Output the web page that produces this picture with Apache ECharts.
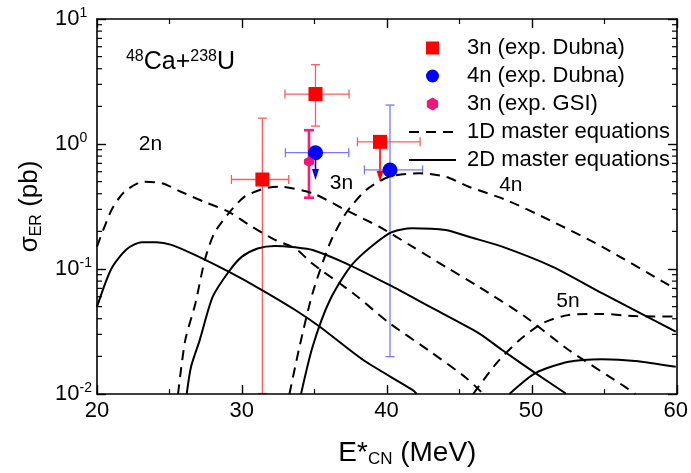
<!DOCTYPE html>
<html><head><meta charset="utf-8">
<script src="https://cdn.jsdelivr.net/npm/echarts@6/dist/echarts.min.js"></script>
<style>
html,body{margin:0;padding:0;background:#fff}
#wrap{position:relative;width:691px;height:473px}
#c,#f{position:absolute;left:0;top:0;width:691px;height:473px}
#f{pointer-events:none}
</style>
</head><body><div id="wrap"><div id="c"></div><div id="f"></div></div>
<script>
// ---------- data ----------
const xTicks = [20, 30, 40, 50, 60];
const yTicks = [0.01, 0.1, 1, 10];
const yMinorTicks = [0.02,0.03,0.04,0.05,0.06,0.07,0.08,0.09,0.2,0.3,0.4,0.5,0.6,0.7,0.8,0.9,2,3,4,5,6,7,8,9];

// 1D master equations (dashed)
const d1n2E = [20.0, 21.0, 21.9, 23.2, 24.5, 25.8, 27.4, 29.1, 30.7, 32.3, 33.7, 34.9, 37.7, 40.2, 43.0, 45.5, 46.7];
const d1n2S = [0.151, 0.296, 0.415, 0.499, 0.485, 0.415, 0.345, 0.287, 0.218, 0.171, 0.146, 0.11, 0.064, 0.037, 0.022, 0.0135, 0.01];
const d1n3E = [25.6, 26.1, 26.8, 27.45, 28.1, 29.1, 30.2, 31.6, 32.6, 34.9, 37.2, 39.5, 41.8, 44.1, 46.4, 49.6, 52.6, 56.5, 57.2];
const d1n3S = [0.01, 0.027, 0.053, 0.118, 0.193, 0.279, 0.379, 0.442, 0.455, 0.403, 0.296, 0.218, 0.151, 0.104, 0.072, 0.0415, 0.0225, 0.0114, 0.01];
const d1n4E = [33.3, 34.0, 34.9, 36.1, 37.2, 38.6, 40.2, 42.3, 44.1, 45.7, 48.3, 51.5, 54.9, 59.5, 60.0];
const d1n4S = [0.01, 0.024, 0.064, 0.161, 0.279, 0.428, 0.547, 0.583, 0.547, 0.455, 0.356, 0.239, 0.151, 0.0745, 0.069];
const d1n5E = [46.0, 47.6, 49.2, 50.8, 52.6, 54.9, 57.2, 60.0];
const d1n5S = [0.01, 0.0176, 0.027, 0.0368, 0.0429, 0.0437, 0.042, 0.0417];

// 2D master equations (solid)
const d2n2E = [20.0, 21.0, 22.05, 23.1, 24.1, 25.15, 26.8, 29.1, 31.4, 33.7, 35.4, 38.4, 41.8, 42.1];
const d2n2S = [0.0499, 0.101, 0.144, 0.164, 0.164, 0.156, 0.129, 0.0952, 0.0679, 0.047, 0.0345, 0.0187, 0.0108, 0.01];
const d2n3E = [26.2, 26.5, 27.1, 28.0, 29.1, 30.0, 31.1, 32.3, 33.7, 34.9, 37.2, 40.2, 43.0, 46.4, 48.0, 50.3, 52.4];
const d2n3S = [0.01, 0.0165, 0.027, 0.060, 0.095, 0.125, 0.146, 0.153, 0.149, 0.142, 0.111, 0.0745, 0.0499, 0.0306, 0.0225, 0.0147, 0.0101];
const d2n4E = [34.1, 34.9, 36.1, 37.7, 40.2, 41.8, 44.1, 45.7, 48.0, 51.5, 54.9, 60.0];
const d2n4S = [0.01, 0.0239, 0.0565, 0.111, 0.193, 0.212, 0.205, 0.181, 0.151, 0.104, 0.064, 0.0315];
const d2n5E = [48.5, 50.3, 52.6, 54.9, 57.2, 60.0];
const d2n5S = [0.01, 0.0147, 0.0181, 0.019, 0.0184, 0.0165];

// experiments
const dubna3nE = [31.43, 35.10, 39.56];
const dubna3nS = [0.52, 2.51, 1.04];
const dubna3nELow = [29.29, 32.99, 38.00];
const dubna3nEHigh = [33.25, 37.42, 42.33];
const dubna3nSLow = [0.0101, 1.39, null];
const dubna3nSHigh = [1.61, 4.31, null];
const dubna3nLimit = [null, null, 0.5];

const dubna4nE = [35.10, 40.25];
const dubna4nS = [0.852, 0.62];
const dubna4nELow = [33.02, 38.48];
const dubna4nEHigh = [37.40, 42.50];
const dubna4nSLow = [null, 0.0199];
const dubna4nSHigh = [null, 2.05];
const dubna4nLimit = [0.515, null];

const gsi3nE = [34.65];
const gsi3nS = [0.72];
const gsi3nSLow = [0.372];
const gsi3nSHigh = [1.29];

// ---------- chart ----------
const FONT = '"Liberation Sans", Arial, sans-serif';
const GRID = {left: 97, right: 14, top: 19, bottom: 79};
const zip = (a, b) => a.map((v, i) => [v, b[i]]);
const hexPath = 'path://M0,-1 L0.866,-0.5 L0.866,0.5 L0,1 L-0.866,0.5 L-0.866,-0.5 Z';
const squarePath = 'path://M0,0 L1,0 L1,1 L0,1 Z';

function lineSeries(name, E, S, dashed) {
  return {
    name: name, type: 'line', data: zip(E, S), showSymbol: false, symbol: 'none',
    smooth: 0.25,
    lineStyle: {color: '#000', width: 2, type: dashed ? [10, 7] : 'solid'},
    itemStyle: {color: '#000'}
  };
}

function errRenderer(col, lw, cap, arrowCol) {
  return function (params, api) {
    const has = v => v != null && !isNaN(v);
    const E = api.value(0), S = api.value(1);
    const xl = api.value(2), xh = api.value(3), yl = api.value(4), yh = api.value(5), lim = api.value(6);
    const ch = [];
    const st = {stroke: col, lineWidth: lw};
    const seg = (a, b, s) => ch.push({type: 'line', shape: {x1: a[0], y1: a[1], x2: b[0], y2: b[1]}, style: s || st});
    if (has(xl) && has(xh)) {
      const a = api.coord([xl, S]), b = api.coord([xh, S]);
      seg(a, b);
      seg([a[0], a[1] - cap], [a[0], a[1] + cap]);
      seg([b[0], b[1] - cap], [b[0], b[1] + cap]);
    }
    if (has(yl) && has(yh)) {
      const a = api.coord([E, yl]), b = api.coord([E, yh]);
      seg(a, b);
      seg([a[0] - cap, a[1]], [a[0] + cap, a[1]]);
      seg([b[0] - cap, b[1]], [b[0] + cap, b[1]]);
    }
    if (has(lim)) {
      const c = api.coord([E, S]), t = api.coord([E, lim]);
      seg(c, [t[0], t[1] - 9], {stroke: arrowCol, lineWidth: 1.6});
      ch.push({type: 'polygon', shape: {points: [[t[0] - 3.5, t[1] - 11], [t[0] + 3.5, t[1] - 11], [t[0], t[1]]]}, style: {fill: arrowCol}});
    }
    return {type: 'group', children: ch};
  };
}

function errRows(E, S, xl, xh, yl, yh, lim) {
  return E.map((e, i) => [e, S[i], xl ? xl[i] : null, xh ? xh[i] : null, yl ? yl[i] : null, yh ? yh[i] : null, lim ? lim[i] : null]);
}

const expLabel = v => {
  const e = Math.round(Math.log10(v));
  return '{b|10}{e|' + e + '}';
};

const option = {
  animation: false,
  backgroundColor: '#fff',
  textStyle: {fontFamily: FONT},
  grid: GRID,
  legend: {
    orient: 'vertical', left: 408, top: 37, padding: 0,
    itemWidth: 47, itemHeight: 13, itemGap: 6, symbolKeepAspect: true,
    textStyle: {fontFamily: FONT, fontSize: 22, color: '#000', lineHeight: 21, padding: [0, 0, 0, 6]},
    selectedMode: false,
    data: [
      {name: '3n (exp. Dubna)', icon: squarePath},
      {name: '4n (exp. Dubna)', icon: 'circle'},
      {name: '3n (exp. GSI)', icon: hexPath},
      {name: '1D master equations', itemStyle: {opacity: 0}},
      {name: '2D master equations', itemStyle: {opacity: 0}}
    ]
  },
  xAxis: {
    type: 'value', min: 20, max: 60, interval: 10, position: 'bottom',
    name: '{m|E*}{s|CN}{m| (MeV)}', nameLocation: 'middle', nameGap: 44,
    nameTextStyle: {padding: [0, 0, 0, 42], rich: {
      m: {fontSize: 28, fontFamily: FONT, color: '#000'},
      s: {fontSize: 17, fontFamily: FONT, color: '#000', verticalAlign: 'bottom', padding: [13, 0, 0, 0]}
    }},
    axisLine: {show: false}, axisTick: {show: false},
    axisLabel: {fontSize: 22, color: '#000', margin: 6, fontFamily: FONT},
    splitLine: {show: false}
  },
  yAxis: {
    type: 'log', logBase: 10, min: 0.01, max: 10, position: 'left',
    name: '{m|σ}{s|ER}{m| (pb)}', nameLocation: 'middle', nameGap: 52, nameRotate: 90,
    nameTextStyle: {rich: {
      m: {fontSize: 26, fontFamily: FONT, color: '#000'},
      s: {fontSize: 16, fontFamily: FONT, color: '#000', verticalAlign: 'bottom', padding: [12, 0, 0, 0]}
    }},
    axisLine: {show: false}, axisTick: {show: false},
    axisLabel: {
      formatter: expLabel, align: 'left', margin: 42,
      rich: {
        b: {fontSize: 22, fontFamily: FONT, color: '#000'},
        e: {fontSize: 14, fontFamily: FONT, color: '#000', verticalAlign: 'top', padding: [0, 0, 12, 0]}
      }
    },
    splitLine: {show: false}
  },
  series: [
    lineSeries('1D master equations', d1n2E, d1n2S, true),
    lineSeries('1D master equations', d1n3E, d1n3S, true),
    lineSeries('1D master equations', d1n4E, d1n4S, true),
    lineSeries('1D master equations', d1n5E, d1n5S, true),
    lineSeries('2D master equations', d2n2E, d2n2S, false),
    lineSeries('2D master equations', d2n3E, d2n3S, false),
    lineSeries('2D master equations', d2n4E, d2n4S, false),
    lineSeries('2D master equations', d2n5E, d2n5S, false),
    {
      type: 'custom', name: 'err3n',
      renderItem: errRenderer('#ff5a5a', 1.3, 4.5, '#ff0000'),
      encode: {x: 0, y: 1},
      data: errRows(dubna3nE, dubna3nS, dubna3nELow, dubna3nEHigh, dubna3nSLow, dubna3nSHigh, dubna3nLimit)
    },
    {
      type: 'custom', name: 'err4n',
      renderItem: errRenderer('#7878ff', 1.3, 4.5, '#0000ff'),
      encode: {x: 0, y: 1},
      data: errRows(dubna4nE, dubna4nS, dubna4nELow, dubna4nEHigh, dubna4nSLow, dubna4nSHigh, dubna4nLimit)
    },
    {
      type: 'custom', name: 'errGSI',
      renderItem: errRenderer('#ff1a80', 2.6, 5, '#ff1a80'),
      encode: {x: 0, y: 1},
      data: errRows(gsi3nE, gsi3nS, null, null, gsi3nSLow, gsi3nSHigh, null)
    },
    {
      name: '3n (exp. Dubna)', type: 'scatter', symbol: 'rect', symbolSize: 14,
      itemStyle: {color: '#ff0000', opacity: 1}, data: zip(dubna3nE, dubna3nS)
    },
    {
      name: '4n (exp. Dubna)', type: 'scatter', symbol: 'circle', symbolSize: 15,
      itemStyle: {color: '#0000ff', opacity: 1}, data: zip(dubna4nE, dubna4nS)
    },
    {
      name: '3n (exp. GSI)', type: 'scatter', symbol: hexPath, symbolSize: 10,
      itemStyle: {color: '#f0147d', opacity: 1}, data: zip(gsi3nE, gsi3nS)
    }
  ]
};

const chart = echarts.init(document.getElementById('c'));
chart.setOption(option);

// text annotations anchored at data coordinates
const toPx = (e, s) => chart.convertToPixel({xAxisIndex: 0, yAxisIndex: 0}, [e, s]);
const graphics = [];
const curveLabels = [
  {text: '2n', E: 23.7, S: 1.0},
  {text: '3n', E: 36.9, S: 0.49},
  {text: '4n', E: 48.6, S: 0.47},
  {text: '5n', E: 52.55, S: 0.0555}
];
const reaction = {E: 22.0, S: 4.55};
curveLabels.forEach(l => {
  const p = toPx(l.E, l.S);
  graphics.push({type: 'text', x: p[0], y: p[1], style: {text: l.text, font: '21px ' + FONT, fill: '#000', align: 'center', verticalAlign: 'middle'}});
});
const rp = toPx(reaction.E, reaction.S);
graphics.push({
  type: 'text', x: rp[0], y: rp[1],
  style: {
    text: '{s|48}{m|Ca+}{s|238}{m|U}', verticalAlign: 'middle', align: 'left',
    rich: {
      m: {fontSize: 25, fontFamily: FONT, fill: '#000'},
      s: {fontSize: 16, fontFamily: FONT, fill: '#000', verticalAlign: 'top', padding: [0, 0, 10, 0]}
    }
  }
});
chart.setOption({graphic: graphics});

// ---------- frame chart: box, major and minor ticks on all four sides ----------
const axLine = () => ({show: true, onZero: false, lineStyle: {color: '#000', width: 1.6}});
const majTick = () => ({show: true, inside: true, length: 9, lineStyle: {color: '#000', width: 1.4}});
const minTick = () => ({show: true, splitNumber: 2, length: 5, lineStyle: {color: '#000', width: 1.2}});
function minorYTick(params, api) {
  const cs = params.coordSys;
  const y = api.coord([xTicks[0], api.value(1)])[1];
  const st = {stroke: '#000', lineWidth: 1.2};
  return {type: 'group', children: [
    {type: 'line', shape: {x1: cs.x, y1: y, x2: cs.x + 5, y2: y}, style: st},
    {type: 'line', shape: {x1: cs.x + cs.width - 5, y1: y, x2: cs.x + cs.width, y2: y}, style: st}
  ]};
}
const frame = echarts.init(document.getElementById('f'));
frame.setOption({
  animation: false,
  backgroundColor: 'transparent',
  grid: GRID,
  xAxis: [
    {type: 'value', min: 20, max: 60, interval: 10, position: 'bottom',
     axisLine: axLine(), axisTick: majTick(), minorTick: minTick(), axisLabel: {show: false}, splitLine: {show: false}},
    {type: 'value', min: 20, max: 60, interval: 10, position: 'top',
     axisLine: axLine(), axisTick: majTick(), minorTick: minTick(), axisLabel: {show: false}, splitLine: {show: false}}
  ],
  yAxis: [
    {type: 'log', logBase: 10, min: 0.01, max: 10, position: 'left',
     axisLine: axLine(), axisTick: majTick(), axisLabel: {show: false}, splitLine: {show: false}},
    {type: 'log', logBase: 10, min: 0.01, max: 10, position: 'right',
     axisLine: axLine(), axisTick: majTick(), axisLabel: {show: false}, splitLine: {show: false}}
  ],
  series: [
    {type: 'custom', clip: false, silent: true, encode: {x: 0, y: 1}, renderItem: minorYTick,
     data: yMinorTicks.map(t => [xTicks[0], t])}
  ]
});
</script>
</body></html>
